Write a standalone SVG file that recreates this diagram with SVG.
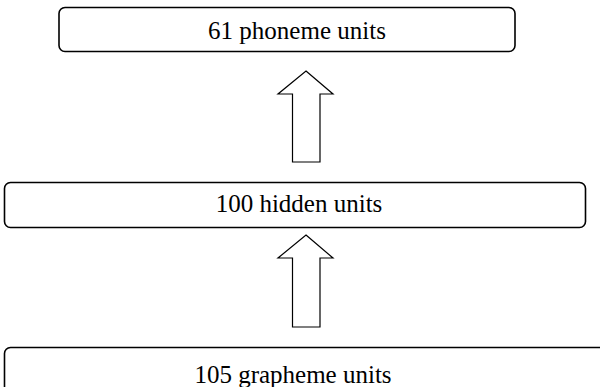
<svg xmlns="http://www.w3.org/2000/svg" width="600" height="387" viewBox="0 0 600 387">
<style>
.box{fill:#fff;stroke:#000;stroke-width:1.6}
.lbl{font-family:'Liberation Serif','Times New Roman',serif;font-size:25px;fill:#000;text-anchor:middle}
.arr{fill:#fff;stroke:#000;stroke-width:1.2;stroke-linejoin:miter}
</style>
<rect width="600" height="387" fill="#fff"/>
<g id="connectors">
<polygon class="arr" points="306,71 333,94 320,94 320,162 292.5,162 292.5,94 278,94"/>
<polygon class="arr" points="306,235 333,258 320,258 320,327 292.5,327 292.5,258 278,258"/>
</g>
<g id="phoneme">
<rect class="box" x="59" y="7.5" width="456" height="44" rx="6"/>
<text class="lbl" x="297" y="39">61 phoneme units</text>
</g>
<g id="hidden">
<rect class="box" x="4.5" y="182.5" width="581" height="45" rx="6"/>
<text class="lbl" x="299" y="212">100 hidden units</text>
</g>
<g id="grapheme">
<rect class="box" x="4.5" y="347.5" width="620" height="60" rx="6"/>
<text class="lbl" x="293" y="383">105 grapheme units</text>
</g>
</svg>
